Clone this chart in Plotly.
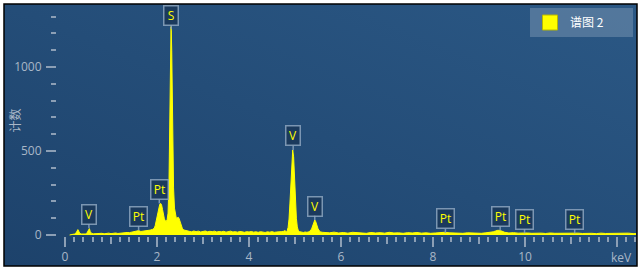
import base64
import plotly.graph_objects as go

# ---------------- data ----------------
energy_kev = [
    0.10, 0.14, 0.18, 0.21, 0.24, 0.26, 0.28, 0.30, 0.32, 0.35, 0.38, 0.41, 0.44, 0.47, 0.49,
    0.51, 0.53, 0.55, 0.58, 0.62, 0.66, 0.70,
    0.75, 0.80, 0.85, 0.90, 0.95, 1.00, 1.05, 1.10, 1.15, 1.20, 1.25, 1.30, 1.35, 1.40, 1.45,
    1.50, 1.55, 1.60, 1.65, 1.70, 1.75, 1.80, 1.85, 1.90, 1.94,
    1.96, 1.98, 2.00, 2.02, 2.04, 2.06, 2.08, 2.10, 2.12, 2.14, 2.16, 2.18, 2.20, 2.22, 2.24,
    2.26, 2.27, 2.28, 2.29, 2.30, 2.305, 2.31, 2.32, 2.33, 2.34, 2.35, 2.36, 2.38, 2.40, 2.42,
    2.44, 2.46, 2.48, 2.50, 2.52, 2.55, 2.58, 2.62, 2.66,
    2.70, 2.75, 2.80, 2.85, 2.90, 2.95, 3.00, 3.05, 3.10, 3.15, 3.20, 3.25, 3.30, 3.35, 3.40,
    3.45, 3.50, 3.55, 3.60, 3.65, 3.70, 3.75, 3.80, 3.85, 3.90, 3.95, 4.00, 4.05, 4.10, 4.15,
    4.20, 4.25, 4.30, 4.35, 4.40, 4.45, 4.50, 4.55, 4.60, 4.65, 4.70, 4.75, 4.78,
    4.81, 4.83, 4.85, 4.87, 4.89, 4.91, 4.93, 4.95, 4.97, 4.99, 5.01, 5.03, 5.05, 5.07, 5.10,
    5.14, 5.18, 5.22, 5.26, 5.30, 5.33, 5.36, 5.39, 5.41, 5.43, 5.45, 5.47, 5.50, 5.53, 5.56, 5.60,
    5.65, 5.75, 5.85, 5.95, 6.05, 6.15, 6.25, 6.35, 6.45, 6.55, 6.65, 6.75, 6.85, 6.95, 7.05,
    7.15, 7.25, 7.35, 7.45, 7.55, 7.65, 7.75, 7.85, 7.95, 8.05, 8.15, 8.25, 8.35, 8.45, 8.55,
    8.65, 8.75, 8.85, 8.95, 9.05, 9.15, 9.25, 9.31, 9.36, 9.41, 9.46, 9.51, 9.56, 9.65, 9.75,
    9.85, 9.95, 10.05, 10.15, 10.25, 10.35, 10.45, 10.55, 10.65, 10.75, 10.85, 10.95, 11.05,
    11.15, 11.25, 11.35, 11.45, 11.55, 11.65, 11.75, 11.85, 11.95, 12.05, 12.15, 12.25, 12.35,
    12.45, 12.55,
]
counts = [
    0, 2, 4, 6, 12, 22, 32, 22, 10, 6, 5, 7, 6, 9, 18,
    34, 38, 20, 9, 7, 8, 6,
    8, 10, 7, 9, 11, 8, 10, 12, 9, 11, 13, 12, 15, 14, 17,
    16, 20, 26, 21, 22, 25, 24, 29, 33, 40,
    55, 80, 115, 150, 172, 183, 188, 178, 152, 120, 96, 85, 82, 90, 130,
    300, 520, 800, 1040, 1200, 1240, 1215, 1100, 880, 620, 420, 280, 160, 115, 100,
    102, 106, 98, 80, 58, 40, 30, 26, 24,
    22, 19, 24, 20, 23, 18, 21, 24, 19, 22, 20, 23, 18, 21, 19,
    22, 17, 20, 23, 18, 20, 17, 21, 19, 16, 20, 18, 21, 17, 19,
    16, 20, 18, 15, 19, 17, 20, 16, 18, 17, 20, 22, 26,
    20, 26, 45, 95, 190, 330, 460, 506, 465, 335, 200, 100, 48, 28, 20,
    17, 15, 18, 16, 19, 24, 36, 60, 78, 89, 80, 62, 38, 24, 18, 16,
    15, 13, 17, 12, 15, 11, 16, 13, 14, 10, 15, 12, 14, 11, 16,
    12, 13, 10, 14, 12, 15, 11, 13, 10, 12, 14, 16, 13, 11, 12,
    10, 13, 11, 12, 10, 13, 15, 19, 24, 28, 27, 22, 16, 12, 14,
    11, 13, 12, 10, 12, 11, 9, 12, 10, 11, 9, 12, 14,
    11, 9, 11, 10, 8, 11, 9, 10, 8, 10, 9, 11, 8,
    10, 9,
]
series_name = "谱图 2"

peak_labels = ["V", "Pt", "Pt", "S", "V", "V", "Pt", "Pt", "Pt", "Pt"]
peak_kev = [0.52, 1.60, 2.05, 2.31, 4.96, 5.43, 8.27, 9.46, 9.99, 11.08]
peak_tip = [40, 28, 188, 1225, 506, 89, 12, 26, 10, 10]

x_tick_vals = [0, 2, 4, 6, 8, 10, 12]
x_tick_text = ["0", "2", "4", "6", "8", "10", ""]
x_mid_ticks = [1, 3, 5, 7, 9, 11]
y_tick_vals = [0, 500, 1000]
y_tick_text = ["0", "500", "1000"]
x_unit = "keV"
y_title = "计数"

# ---------------- style ----------------
W, H = 642, 271
ML, MR, MT, MB = 57, 6, 5, 35
PW, PH = W - ML - MR, H - MT - MB
TICK = "#8c9fb5"
LABEL = "#a9b7c7"
YEL = "#ffff00"
FONT = "Open Sans"
CJK = "Noto Sans CJK SC"

def px_to_paper_x(p):
    return (p - ML) / PW

def px_to_paper_y(p):
    return (H - MB - p) / PH

fig = go.Figure()

fig.add_trace(go.Scatter(
    x=energy_kev, y=counts, mode="lines",
    line=dict(color=YEL, width=1), fill="tozeroy", fillcolor=YEL,
    showlegend=False, hoverinfo="skip",
))
# legend entry
fig.add_trace(go.Scatter(
    x=[None], y=[None], mode="markers", name=series_name,
    marker=dict(symbol="square", size=15, color=YEL, line=dict(color="#b8b800", width=1)),
))
# invisible trace on the overlay axis so it renders
fig.add_trace(go.Scatter(x=[None], y=[None], xaxis="x2", showlegend=False, hoverinfo="skip"))

# background gradient
svg = ('<svg xmlns="http://www.w3.org/2000/svg" width="633" height="262" viewBox="0 0 633 262" '
       'preserveAspectRatio="none"><defs><linearGradient id="g" x1="0" y1="1" x2="1" y2="0">'
       '<stop offset="0" stop-color="#1d426b"/><stop offset="1" stop-color="#2b5885"/>'
       '</linearGradient></defs><rect width="633" height="262" fill="url(#g)"/></svg>')
src = "data:image/svg+xml;base64," + base64.b64encode(svg.encode()).decode()
fx0, fx1 = px_to_paper_x(4), px_to_paper_x(637)
fy0, fy1 = px_to_paper_y(266), px_to_paper_y(4)
fig.add_layout_image(dict(source=src, xref="paper", yref="paper", x=fx0, y=fy1,
                          sizex=fx1 - fx0, sizey=fy1 - fy0, sizing="stretch",
                          xanchor="left", yanchor="top", layer="below"))
fig.add_shape(type="rect", xref="paper", yref="paper", x0=fx0, x1=fx1, y0=fy0, y1=fy1,
              line=dict(color="black", width=1.5), fillcolor="rgba(0,0,0,0)", layer="above")

# peak callouts
for lab, xk, yt in zip(peak_labels, peak_kev, peak_tip):
    fig.add_annotation(
        x=xk, y=yt, xref="x", yref="y", text=lab, showarrow=True,
        ax=0, ay=-14, arrowhead=0, arrowwidth=1.5, arrowcolor="rgba(140,165,190,0.85)",
        standoff=0, bgcolor="#1b3a5d", bordercolor="rgba(140,165,190,0.85)",
        borderwidth=1.5, borderpad=1, width=14 if lab == "Pt" else 11, height=16,
        font=dict(family=FONT, size=12, color=YEL),
    )

fig.add_annotation(text=x_unit, xref="paper", yref="paper", x=1, y=0, xanchor="right",
                   yanchor="top", xshift=-2, yshift=-11, showarrow=False,
                   font=dict(family=FONT, size=12, color=LABEL))
fig.add_annotation(text=y_title, xref="paper", yref="paper", x=px_to_paper_x(14), y=0.5,
                   xanchor="center", yanchor="middle", textangle=-90, showarrow=False,
                   font=dict(family=CJK, size=12, color=LABEL))

x_range = [-0.174, 12.413]
fig.update_layout(
    width=W, height=H, margin=dict(l=ML, r=MR, t=MT, b=MB, pad=0, autoexpand=False),
    paper_bgcolor="white", plot_bgcolor="rgba(0,0,0,0)",
    xaxis=dict(range=x_range, showgrid=False, zeroline=False, showline=False, automargin=False,
               tickvals=x_tick_vals, ticktext=x_tick_text, ticks="outside", ticklen=10,
               tickwidth=2, tickcolor=TICK, tickfont=dict(family=FONT, size=12, color=LABEL),
               minor=dict(dtick=0.2, tick0=0, ticks="outside", ticklen=5, tickwidth=2,
                          tickcolor=TICK, showgrid=False)),
    xaxis2=dict(range=x_range, overlaying="x", anchor="y", side="bottom", showgrid=False,
                zeroline=False, showline=False, tickvals=x_mid_ticks, ticks="outside",
                ticklen=7, tickwidth=2, tickcolor=TICK, showticklabels=False, automargin=False),
    yaxis=dict(range=[-6, 1369], showgrid=False, zeroline=False, showline=False, automargin=False,
               tickvals=y_tick_vals, ticktext=y_tick_text, ticks="outside", ticklen=10,
               tickwidth=2, tickcolor=TICK, tickfont=dict(family=FONT, size=12, color=LABEL),
               ticklabelstandoff=2,
               minor=dict(dtick=100, tick0=0, ticks="outside", ticklen=5, tickwidth=2,
                          tickcolor=TICK, showgrid=False)),
    legend=dict(x=px_to_paper_x(530), y=px_to_paper_y(8), xanchor="left", yanchor="top",
                orientation="h", entrywidth=58, entrywidthmode="pixels",
                bgcolor="rgba(110,140,172,0.6)", borderwidth=0,
                font=dict(family=CJK, size=12, color="white"),
                itemsizing="trace", tracegroupgap=0),
)

fig.write_html("out.html")
